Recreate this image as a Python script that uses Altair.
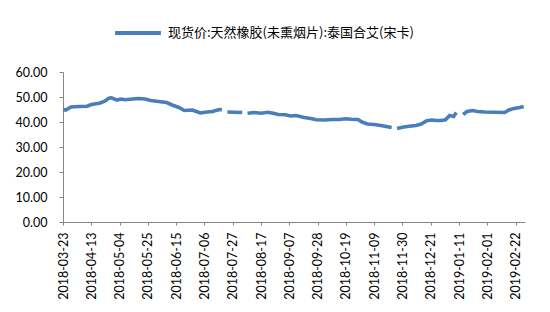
import altair as alt
import pandas as pd

series_name = "现货价:天然橡胶(未熏烟片):泰国合艾(宋卡)"

dates = [
    "2018-03-23", "2018-03-25", "2018-03-29", "2018-04-04", "2018-04-10", "2018-04-13",
    "2018-04-19", "2018-04-23", "2018-04-26", "2018-04-28", "2018-05-02", "2018-05-05",
    "2018-05-08", "2018-05-12", "2018-05-18", "2018-05-23", "2018-05-27", "2018-06-02",
    "2018-06-08", "2018-06-12", "2018-06-17", "2018-06-21", "2018-06-27", "2018-06-30",
    "2018-07-03", "2018-07-08", "2018-07-12", "2018-07-17", "2018-07-19", "2018-07-21",
    "2018-07-23", "2018-07-28", "2018-08-03", "2018-08-05",
    "2018-08-07", "2018-08-12", "2018-08-17", "2018-08-22", "2018-08-26", "2018-08-30",
    "2018-09-04", "2018-09-08", "2018-09-12", "2018-09-18", "2018-09-23", "2018-09-27",
    "2018-10-03", "2018-10-09", "2018-10-14", "2018-10-19", "2018-10-23", "2018-10-28",
    "2018-10-31", "2018-11-04", "2018-11-09", "2018-11-14", "2018-11-19", "2018-11-22",
    "2018-11-24",
    "2018-11-26", "2018-11-30", "2018-12-05", "2018-12-10", "2018-12-14", "2018-12-18",
    "2018-12-22", "2018-12-25", "2018-12-29", "2019-01-01", "2019-01-04", "2019-01-07",
    "2019-01-09", "2019-01-11",
    "2019-01-14", "2019-01-17", "2019-01-21", "2019-01-25", "2019-01-30", "2019-02-06",
    "2019-02-14", "2019-02-17", "2019-02-20", "2019-02-25", "2019-02-28",
]

values = [
    45.0, 44.8, 46.0, 46.2, 46.3, 47.0,
    47.5, 48.3, 49.5, 49.7, 48.8, 49.2,
    48.9, 49.1, 49.4, 49.2, 48.6, 48.2,
    47.8, 46.8, 45.8, 44.6, 44.8, 44.2,
    43.6, 44.0, 44.2, 45.0, 44.9, None,
    44.0, 43.9, 43.8, None,
    43.5, 43.8, 43.5, 43.9, 43.5, 43.0,
    42.9, 42.4, 42.6, 41.8, 41.4, 40.9,
    40.8, 41.0, 41.0, 41.3, 41.1, 41.0,
    40.0, 39.2, 39.0, 38.6, 38.1, 37.8,
    None,
    37.4, 37.9, 38.3, 38.6, 39.2, 40.5,
    40.8, 40.6, 40.6, 40.9, 42.6, 42.2,
    43.8, None,
    43.0, 44.2, 44.6, 44.2, 44.0, 43.9,
    43.8, 44.8, 45.3, 45.8, 46.2,
]

tick_dates = [
    (2018, 3, 23), (2018, 4, 13), (2018, 5, 4), (2018, 5, 25), (2018, 6, 15),
    (2018, 7, 6), (2018, 7, 27), (2018, 8, 17), (2018, 9, 7), (2018, 9, 28),
    (2018, 10, 19), (2018, 11, 9), (2018, 11, 30), (2018, 12, 21), (2019, 1, 11),
    (2019, 2, 1), (2019, 2, 22),
]
y_ticks = [0, 10, 20, 30, 40, 50, 60]

df = pd.DataFrame({"date": dates, "value": values, "series": series_name})

font = "Lato"
axis_color = "#868686"

x_enc = alt.X(
    "date:T",
    scale=alt.Scale(
        type="utc",
        domain=[alt.DateTime(year=2018, month=3, date=23, utc=True),
                alt.DateTime(year=2019, month=3, date=1, utc=True)],
    ),
    axis=alt.Axis(
        values=[alt.DateTime(year=y, month=m, date=d, utc=True) for (y, m, d) in tick_dates],
        format="%Y-%m-%d",
        labelAngle=-90,
        labelFont=font,
        labelFontSize=12.5,
        labelColor="#000000",
        labelPadding=7,
        tickSize=3,
        tickColor=axis_color,
        domainColor=axis_color,
        grid=False,
        title=None,
        labelOverlap=False,
    ),
)

y_enc = alt.Y(
    "value:Q",
    scale=alt.Scale(domain=[0, 60], nice=False),
    axis=alt.Axis(
        values=y_ticks,
        format=".2f",
        labelFont=font,
        labelFontSize=12.5,
        labelColor="#000000",
        labelPadding=12,
        tickSize=4,
        tickColor=axis_color,
        domainColor=axis_color,
        grid=False,
        title=None,
    ),
)

chart = (
    alt.Chart(df)
    .mark_line(strokeWidth=3.6, color="#4A7EBB")
    .encode(
        x=x_enc,
        y=y_enc,
        color=alt.Color(
            "series:N",
            scale=alt.Scale(range=["#4A7EBB"]),
            legend=alt.Legend(
                title=None,
                orient="none",
                legendX=50,
                legendY=-64,
                symbolType="stroke",
                symbolSize=2100,
                symbolStrokeWidth=4,
                labelFont="Noto Sans CJK SC",
                labelFontSize=13,
                labelColor="#000000",
                labelLimit=400,
                labelOffset=5,
            ),
        ),
    )
    .properties(
        width=462,
        height=150,
        autosize=alt.AutoSizeParams(type="none"),
        padding={"left": 63, "top": 72, "right": 25, "bottom": 90},
        background="white",
    )
    .configure_view(stroke=None)
)

chart.save("out.html", embed_options={"renderer": "svg", "actions": False})
